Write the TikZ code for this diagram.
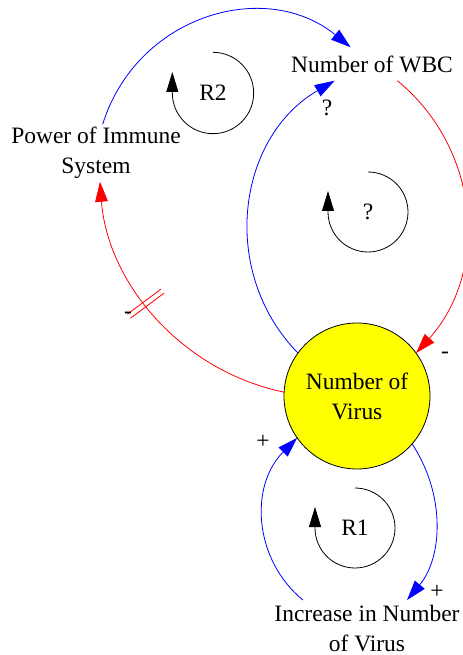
\documentclass[tikz,border=0pt]{standalone}
\usepackage{fontspec}
\setmainfont{Liberation Serif}
\usetikzlibrary{arrows.meta,decorations.markings}
\definecolor{cldblue}{HTML}{0000FF}
\definecolor{cldred}{HTML}{FF0000}
\definecolor{cldyellow}{HTML}{FFFF00}

\begin{document}
\begin{tikzpicture}[x=0.75pt,y=-0.75pt,
    font=\fontsize{17.6}{22.5}\selectfont,
    varlabel/.style={align=center,inner sep=2pt},
    stock/.style={circle,draw=black,fill=cldyellow,line width=0.6pt,
      minimum size=109.5pt,inner sep=0pt,outer sep=0pt,align=center},
    poslink/.style={cldblue,line width=0.6pt,-{Triangle[length=15pt,width=9.5pt]}},
    neglink/.style={cldred,line width=0.6pt,-{Triangle[length=15pt,width=9.5pt]}},
    loopmark/.style={black,line width=0.6pt,-{Triangle[length=15pt,width=9pt]}},
    delaymark/.style={postaction={decorate},decoration={markings,
      mark=at position 0.56 with {\draw[cldred,line width=0.6pt,-]
        (-1.9pt,-15.75pt) -- (-1.9pt,15.75pt) (1.9pt,-15.75pt) -- (1.9pt,15.75pt);}}}]

  \useasboundingbox (0,0) rectangle (462,655);

  % ---- Variables ---------------------------------------------
  \node[stock] (virus) at (357,396) {Number of\\Virus};
  \node[varlabel] (wbc) at (372,64) {Number of WBC};
  \node[varlabel] (pwr) at (96,153) {Power of Immune\\System};
  \node[varlabel] (inc) at (367,629) {Increase in Number\\of Virus};

  % ---- Links -------------------------------------------------
  \draw[poslink] ([xshift=5pt]pwr.north)
    .. controls (136.6,15.5) and (265,-22.3) .. ([shift={(-16pt,4pt)}]wbc.north);
  \draw[poslink] (virus.144)
    .. controls (218.4,271.4) and (237.2,137.2) .. ([shift={(-28pt,-4pt)}]wbc.south);
  \draw[neglink] ([shift={(19pt,-4pt)}]wbc.south)
    .. controls (480.6,148.8) and (489.4,271.6) .. (virus.36);
  \draw[neglink,delaymark] (virus.177)
    .. controls (181.7,371) and (107.6,283.2) .. ([xshift=3pt]pwr.south);
  \draw[poslink] ([shift={(-48pt,2pt)}]inc.north)
    .. controls (253.7,559.7) and (249.1,486.1) .. (virus.215);
  \draw[poslink] (virus.319)
    .. controls (445.8,495.2) and (442.6,557.2) .. ([shift={(30pt,2pt)}]inc.north);

  % polarities
  \node (sgnq) at (327,108) {?};
  \node (sgnwbc) at (445,355) {-};
  \node (sgnpwr) at (128,315) {-};
  \node (sgnvir) at (263,442) {+};
  \node (sgninc) at (437,592) {+};

  % ---- Loop markers ------------------------------------------
  \node (r2) at (213,93) {R2};
  \draw[loopmark] ([yshift=30.5pt]r2.center)
    arc[start angle=90,end angle=-180,radius=30.5pt] -- ++(0,-21);
  \node (qloop) at (368,212) {?};
  \draw[loopmark] ([yshift=30pt]qloop.center)
    arc[start angle=90,end angle=-180,radius=30pt] -- ++(0,-21);
  \node (r1) at (355,528) {R1};
  \draw[loopmark] ([yshift=30pt]r1.center)
    arc[start angle=90,end angle=-180,radius=30pt] -- ++(0,-21);

\end{tikzpicture}
\end{document}
